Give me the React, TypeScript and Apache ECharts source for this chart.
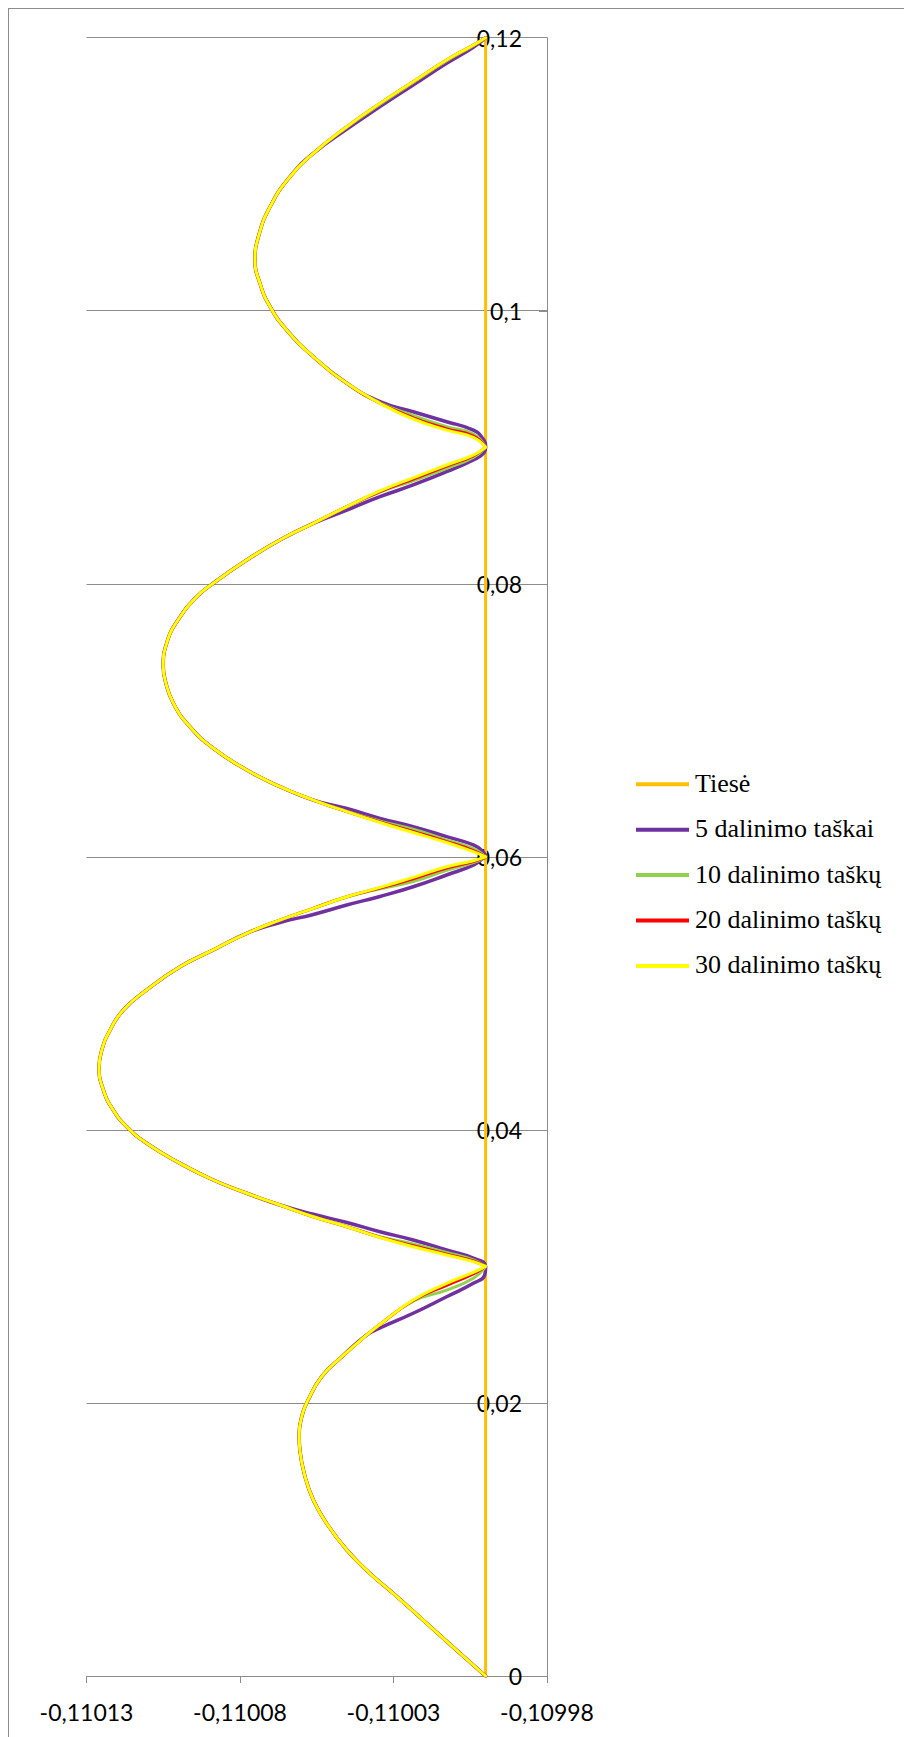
import React, { useEffect, useRef } from "react";
import * as echarts from "echarts";

// ---- data ----
const seriesNames = [
  "Tiesė",
  "5 dalinimo taškai",
  "10 dalinimo taškų",
  "20 dalinimo taškų",
  "30 dalinimo taškų",
];
const seriesColors = ["#FFC000", "#7030A0", "#92D050", "#FF0000", "#FFFF00"];

const xMin = -0.11013;
const xMax = -0.10998;
const xStep = 0.00005;
const yMin = 0;
const yMax = 0.12;
const yStep = 0.02;

const straightLine = [
  [-0.11, 0],
  [-0.11, 0.12],
];

const GAP: any = ["-", "-"];

const arc1 = [
  [-0.11, 0], [-0.1100083, 0.00166], [-0.1100192, 0.00386], [-0.1100301, 0.00606],
  [-0.1100377, 0.00752], [-0.1100452, 0.00923], [-0.1100518, 0.01118], [-0.1100561, 0.01289],
  [-0.1100588, 0.0146], [-0.1100605, 0.01655], [-0.1100607, 0.0174], [-0.1100599, 0.01899],
  [-0.1100578, 0.02022], [-0.1100534, 0.02193], [-0.1100469, 0.02337], [-0.1100387, 0.02498],
];
const arc2 = [
  [-0.110067, 0.0345], [-0.1100778, 0.03536], [-0.1100887, 0.03633],
  [-0.1100995, 0.03755], [-0.1101104, 0.03902], [-0.1101169, 0.04023], [-0.1101213, 0.04146],
  [-0.1101245, 0.04292], [-0.1101259, 0.04461], [-0.110125, 0.04585], [-0.1101223, 0.04732],
  [-0.110118, 0.04878], [-0.1101104, 0.05025], [-0.1100995, 0.05195], [-0.1100887, 0.05318],
  [-0.1100778, 0.0544],
];
const arc3 = [
  [-0.1100561, 0.06416], [-0.110067, 0.06514], [-0.1100778, 0.06636], [-0.1100887, 0.06795],
  [-0.1100963, 0.06953], [-0.1101017, 0.07125], [-0.1101044, 0.07295], [-0.110105, 0.07393],
  [-0.1101039, 0.07564], [-0.1100995, 0.07759], [-0.1100941, 0.07905], [-0.1100887, 0.08004],
  [-0.1100778, 0.08174], [-0.110067, 0.08321], [-0.1100561, 0.08443],
];
const arc4 = [
  [-0.1100452, 0.09469], [-0.1100561, 0.09663], [-0.1100648, 0.09859], [-0.1100702, 0.1003],
  [-0.1100735, 0.10201], [-0.1100751, 0.10372], [-0.110074, 0.10542], [-0.1100702, 0.10762],
  [-0.1100637, 0.10982], [-0.1100561, 0.11153],
];

const cusps5 = [
  [
    [-0.1100344, 0.02549], [-0.1100236, 0.02657], [-0.1100127, 0.02778], [-0.110004, 0.02876],
    [-0.1100003, 0.02937], [-0.11, 0.03], [-0.110004, 0.0306], [-0.1100127, 0.0312],
    [-0.1100236, 0.03194], [-0.1100344, 0.03254], [-0.1100452, 0.03322], [-0.1100561, 0.03382],
  ],
  [
    [-0.110067, 0.05519], [-0.1100561, 0.05578], [-0.1100452, 0.05647], [-0.1100344, 0.0571],
    [-0.1100236, 0.05781], [-0.1100127, 0.05867], [-0.110004, 0.0594], [-0.1100008, 0.05989],
    [-0.11, 0.06], [-0.1100008, 0.06038], [-0.110004, 0.06087], [-0.1100127, 0.06148],
    [-0.1100236, 0.06221], [-0.1100344, 0.06282], [-0.1100452, 0.06354],
  ],
  [
    [-0.1100452, 0.0854], [-0.1100344, 0.08638], [-0.1100236, 0.08724], [-0.1100127, 0.08821],
    [-0.110004, 0.08907], [-0.1100005, 0.0896], [-0.11, 0.09], [-0.1100008, 0.0906],
    [-0.110004, 0.09126], [-0.1100127, 0.09187], [-0.1100236, 0.0926], [-0.1100344, 0.09334],
  ],
  [
    [-0.1100452, 0.1133], [-0.1100344, 0.11495], [-0.1100236, 0.11653], [-0.1100127, 0.11812],
    [-0.110004, 0.1193], [-0.11, 0.12],
  ],
];

const cusps10 = [
  [
    [-0.1100344, 0.02575], [-0.1100236, 0.02745], [-0.1100127, 0.02827], [-0.110004, 0.02913],
    [-0.11, 0.03], GAP, [-0.11, 0.03], [-0.110004, 0.03048], [-0.1100127, 0.03102],
    [-0.1100236, 0.03164], [-0.1100344, 0.03218], [-0.1100452, 0.03293], [-0.1100561, 0.03364],
  ],
  [
    [-0.110067, 0.05537], [-0.1100561, 0.05623], [-0.1100452, 0.05706], [-0.1100344, 0.05766],
    [-0.1100236, 0.05819], [-0.1100127, 0.05901], [-0.110004, 0.05958], [-0.11, 0.06], GAP,
    [-0.11, 0.06], [-0.110004, 0.0606], [-0.1100127, 0.06123], [-0.1100236, 0.06202],
    [-0.1100344, 0.06262], [-0.1100452, 0.06333],
  ],
  [
    [-0.1100452, 0.08563], [-0.1100344, 0.08672], [-0.1100236, 0.08755], [-0.1100127, 0.08846],
    [-0.110004, 0.08926], [-0.11, 0.09], GAP, [-0.11, 0.09], [-0.110004, 0.09097],
    [-0.1100127, 0.09151], [-0.1100236, 0.09234], [-0.1100344, 0.09326],
  ],
  [
    [-0.1100452, 0.11344], [-0.1100344, 0.11513], [-0.1100236, 0.11672], [-0.1100127, 0.11831],
    [-0.110004, 0.11942], [-0.11, 0.12],
  ],
];

const cusps20 = [
  [
    [-0.1100344, 0.02575], [-0.1100236, 0.02751], [-0.1100127, 0.02862], [-0.110004, 0.02945],
    [-0.11, 0.03], GAP, [-0.11, 0.03], [-0.110004, 0.0304], [-0.1100127, 0.0309],
    [-0.1100236, 0.03152], [-0.1100344, 0.03214], [-0.1100452, 0.03291], [-0.1100561, 0.03364],
  ],
  [
    [-0.110067, 0.05537], [-0.1100561, 0.05623], [-0.1100452, 0.05708], [-0.1100344, 0.05772],
    [-0.1100236, 0.0584], [-0.1100127, 0.05918], [-0.110004, 0.05966], [-0.11, 0.06], GAP,
    [-0.11, 0.06], [-0.110004, 0.06046], [-0.1100127, 0.06112], [-0.1100236, 0.06186],
    [-0.1100344, 0.06256], [-0.1100452, 0.06331],
  ],
  [
    [-0.1100452, 0.08565], [-0.1100344, 0.08676], [-0.1100236, 0.08767], [-0.1100127, 0.08862],
    [-0.110004, 0.08937], [-0.11, 0.09], GAP, [-0.11, 0.09], [-0.110004, 0.09082],
    [-0.1100127, 0.09135], [-0.1100236, 0.09216], [-0.1100344, 0.09323],
  ],
  [
    [-0.1100452, 0.11348], [-0.1100344, 0.11519], [-0.1100236, 0.11678], [-0.1100127, 0.11837],
    [-0.110004, 0.11946], [-0.11, 0.12],
  ],
];

const cusps30 = [
  [
    [-0.1100344, 0.02575], [-0.1100236, 0.02754], [-0.1100127, 0.02876], [-0.110004, 0.02956],
    [-0.11, 0.03], GAP, [-0.11, 0.03], [-0.110004, 0.03035], [-0.1100127, 0.03084],
    [-0.1100236, 0.03144], [-0.1100344, 0.03212], [-0.1100452, 0.03291], [-0.1100561, 0.03364],
  ],
  [
    [-0.110067, 0.05537], [-0.1100561, 0.05623], [-0.1100452, 0.05708], [-0.1100344, 0.05776],
    [-0.1100236, 0.0585], [-0.1100127, 0.05928], [-0.110004, 0.05972], [-0.11, 0.06], GAP,
    [-0.11, 0.06], [-0.110004, 0.06038], [-0.1100127, 0.06105], [-0.1100236, 0.06178],
    [-0.1100344, 0.06252], [-0.1100452, 0.06331],
  ],
  [
    [-0.1100452, 0.08565], [-0.1100344, 0.0868], [-0.1100236, 0.08776], [-0.1100127, 0.0887],
    [-0.110004, 0.08943], [-0.11, 0.09], GAP, [-0.11, 0.09], [-0.110004, 0.09073],
    [-0.1100127, 0.09126], [-0.1100236, 0.09207], [-0.1100344, 0.09322],
  ],
  [
    [-0.1100452, 0.11348], [-0.1100344, 0.11519], [-0.1100236, 0.11678], [-0.1100127, 0.11837],
    [-0.110004, 0.11946], [-0.11, 0.12],
  ],
];

function assemble(c: any[][]) {
  return [...arc1, ...c[0], ...arc2, ...c[1], ...arc3, ...c[2], ...arc4, ...c[3]];
}

const AXIS_COLOR = "#8c8c8c";
const LABEL_FONT = "Lato";
const LEGEND_FONT = "Times New Roman";

export default function App() {
  const ref = useRef<HTMLDivElement>(null);

  useEffect(() => {
    document.body.style.margin = "8px 0 0 8px";
    document.documentElement.style.overflow = "hidden";
    if (!ref.current) return;
    const chart = echarts.init(ref.current, undefined, { renderer: "svg" });

    const datasets = [straightLine, assemble(cusps5), assemble(cusps10), assemble(cusps20), assemble(cusps30)];
    const widths = [3, 3.5, 3, 3, 3];

    const legendLeft = 627;
    const legendTop = 775.3;
    const legendStep = 45.4;
    const rects: any[] = [];
    const texts: any[] = [];
    seriesNames.forEach((name, i) => {
      rects.push({
        type: "rect",
        silent: true,
        shape: { x: 0, y: i * legendStep - 2, width: 53, height: 4 },
        style: { fill: seriesColors[i] },
      });
      texts.push({
        type: "text",
        silent: true,
        x: 59,
        y: i * legendStep - 14,
        style: { text: name, fontFamily: LEGEND_FONT, fontSize: 26, fill: "#000" },
      });
    });

    chart.setOption({
      animation: false,
      backgroundColor: "#ffffff",
      grid: {
        left: 77.5,
        top: 28.7,
        right: 357,
        bottom: 61,
        containLabel: false,
        outerBoundsMode: "none",
      },
      graphic: [
        {
          type: "group",
          x: legendLeft,
          y: legendTop,
          silent: true,
          children: [...rects, ...texts],
        },
      ],
      xAxis: {
        type: "value",
        min: xMin,
        max: xMax,
        interval: xStep,
        axisLine: { show: true, onZero: false, lineStyle: { color: AXIS_COLOR, width: 1 } },
        axisTick: { show: true, inside: false, length: 7, lineStyle: { color: AXIS_COLOR } },
        splitLine: { show: false },
        axisLabel: {
          interval: 0,
          margin: 24,
          fontFamily: LABEL_FONT,
          fontSize: 23,
          lineHeight: 24,
          color: "#000000",
          formatter: (v: number) => v.toFixed(5).replace(".", ","),
        },
      },
      yAxis: {
        type: "value",
        position: "right",
        min: yMin,
        max: yMax,
        interval: yStep,
        axisLine: { show: true, onZero: false, lineStyle: { color: AXIS_COLOR, width: 1 } },
        axisTick: { show: true, inside: true, length: 8, lineStyle: { color: AXIS_COLOR } },
        splitLine: { show: true, lineStyle: { color: AXIS_COLOR, width: 1 } },
        axisLabel: {
          inside: true,
          margin: 25,
          fontFamily: LABEL_FONT,
          fontSize: 23,
          color: "#000000",
          formatter: (v: number) => (v === 0 ? "0" : String(parseFloat(v.toFixed(2))).replace(".", ",")),
        },
      },
      series: seriesNames.map((name, i) => ({
        name,
        type: "line",
        data: datasets[i],
        smooth: i === 0 ? false : 0.5,
        symbol: "none",
        showSymbol: false,
        connectNulls: false,
        silent: true,
        color: seriesColors[i],
        lineStyle: { color: seriesColors[i], width: widths[i], cap: "round", join: "round" },
        z: 2 + i,
      })),
    });

    return () => {
      chart.dispose();
    };
  }, []);

  return (
    <div
      ref={ref}
      style={{
        width: 895,
        height: 1728,
        borderTop: "1px solid #8c8c8c",
        borderLeft: "1px solid #8c8c8c",
        background: "#ffffff",
      }}
    />
  );
}
